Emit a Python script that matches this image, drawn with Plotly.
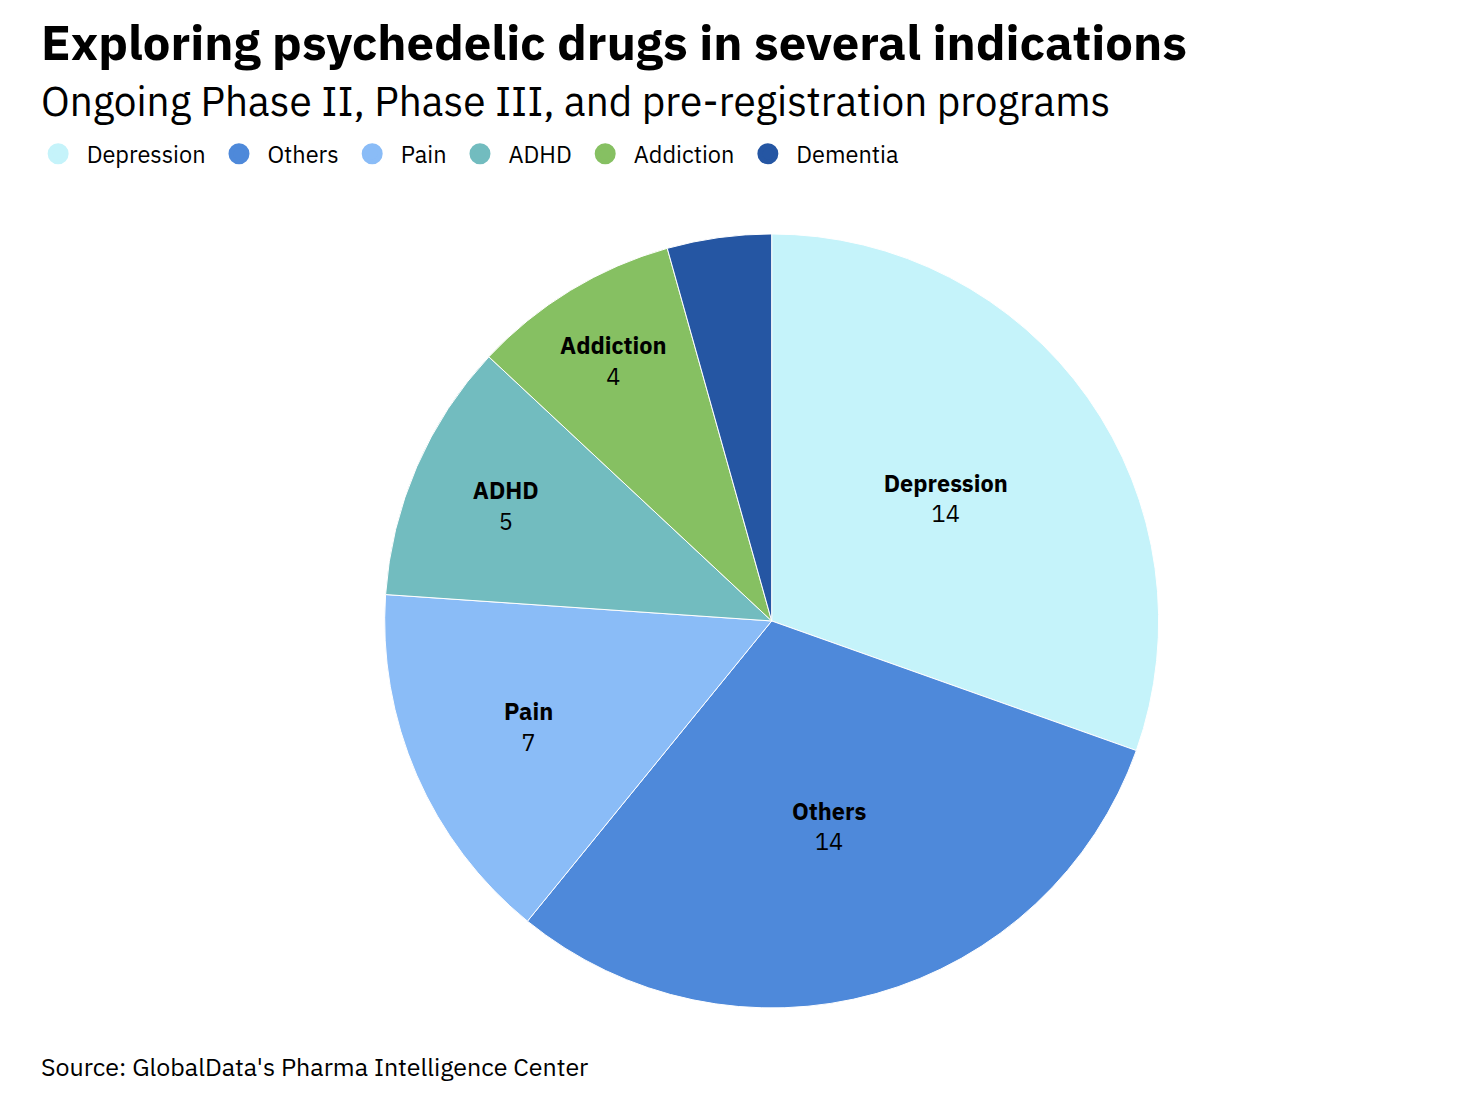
import plotly.graph_objects as go

# programs per indication
indications = ["Depression", "Others", "Pain", "ADHD", "Addiction", "Dementia"]
programs = [14, 14, 7, 5, 4, 2]
colors = ["#c5f3fa", "#4e89da", "#8abcf7", "#72bcbf", "#86c062", "#2556a3"]
show_label = [True, True, True, True, True, False]

font_family = "IBM Plex Sans, Roboto, Noto Sans, sans-serif"
W, H = 1482, 1098

templates = ["<b>%{label}</b><br>%{value}" if s else "" for s in show_label]

fig = go.Figure()
fig.add_trace(go.Pie(
    labels=indications,
    values=programs,
    sort=False,
    direction="clockwise",
    rotation=0,
    marker=dict(colors=colors, line=dict(color="white", width=1)),
    texttemplate=templates,
    textposition="inside",
    insidetextorientation="horizontal",
    textfont=dict(size=23.5, color="black", family=font_family),
    hoverinfo="label+value",
    showlegend=False,
    domain=dict(x=[0.0953, 0.9353], y=[0.0893, 0.7942]),
))

# legend entries as circles
for name, col in zip(indications, colors):
    fig.add_trace(go.Scatter(
        x=[None], y=[None], mode="markers", name=name,
        marker=dict(symbol="circle", size=16, color=col, line=dict(color=col, width=5)),
    ))

fig.update_xaxes(visible=False)
fig.update_yaxes(visible=False)

# title, subtitle and source (positions in pixels, converted below)
fig.add_annotation(text="<b>Exploring psychedelic drugs in several indications</b>",
                   x=32, y=H - 33, showarrow=False,
                   font=dict(size=49, color="black", family=font_family))
fig.add_annotation(text="Ongoing Phase II, Phase III, and pre-registration programs",
                   x=32, y=H - 92, showarrow=False,
                   font=dict(size=40.5, color="black", family=font_family))
fig.add_annotation(text="Source: GlobalData's Pharma Intelligence Center",
                   x=32, y=H - 1058, showarrow=False,
                   font=dict(size=25, color="black", family=font_family))

for ann in fig.layout.annotations:
    ann.x = ann.x / W
    ann.y = ann.y / H
    ann.xref = "paper"
    ann.yref = "paper"
    ann.xanchor = "left"
    ann.yanchor = "middle"
    ann.borderpad = 0

fig.update_layout(
    width=W, height=H,
    margin=dict(l=0, r=0, t=0, b=0),
    paper_bgcolor="white", plot_bgcolor="white",
    font=dict(family=font_family, color="black"),
    legend=dict(orientation="h", x=0.0146, y=1 - 124 / H, xanchor="left", yanchor="top",
                itemwidth=47,
                font=dict(size=23.5, color="black", family=font_family)),
)

fig.write_html("out.html")
